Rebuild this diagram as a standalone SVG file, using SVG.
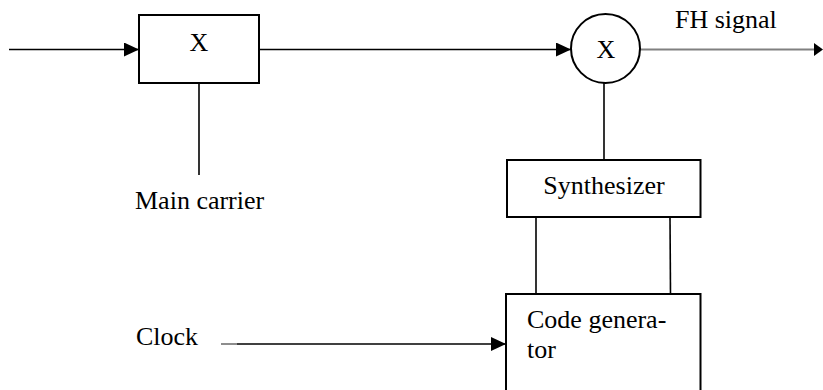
<svg xmlns="http://www.w3.org/2000/svg" width="823" height="390" viewBox="0 0 823 390">
  <style>
    .box { fill: #fff; stroke: #000; stroke-width: 2; }
    .wire { stroke: #000; stroke-width: 1.6; fill: none; }
    .grey { stroke: #808080; stroke-width: 1.8; fill: none; }
    .lbl { font-family: "Liberation Serif", "Times New Roman", serif; font-size: 26px; fill: #000; }
  </style>
  <defs>
    <marker id="arrow" viewBox="0 0 15 14" refX="15" refY="7" markerWidth="15" markerHeight="14" markerUnits="userSpaceOnUse" orient="auto">
      <path d="M0,0 L15,7 L0,14 Z" fill="#000"/>
    </marker>
  </defs>

  <g id="connectors">
    <line class="wire" x1="9" y1="49.5" x2="139" y2="49.5" marker-end="url(#arrow)"/>
    <line class="wire" x1="199" y1="83" x2="199" y2="175"/>
    <line class="wire" x1="259" y1="49.5" x2="571" y2="49.5" marker-end="url(#arrow)"/>
    <line class="grey" x1="640" y1="49.5" x2="815" y2="49.5"/>
    <path d="M814,43 L823,49.5 L814,56 Z" fill="#000"/>
    <line class="wire" x1="604" y1="83" x2="604" y2="160"/>
    <line class="wire" x1="536" y1="217" x2="536" y2="294"/>
    <line class="wire" x1="670" y1="217" x2="670.5" y2="294"/>
    <line class="grey" x1="221" y1="344" x2="237" y2="344"/>
    <line class="wire" x1="237" y1="344" x2="506" y2="344" marker-end="url(#arrow)"/>
  </g>

  <g id="mixer">
    <rect class="box" x="139" y="15" width="120" height="68"/>
    <text class="lbl" x="199" y="51" text-anchor="middle">X</text>
  </g>

  <g id="multiplier">
    <circle class="box" cx="605.5" cy="48.5" r="34.5"/>
    <text class="lbl" x="606" y="57.5" text-anchor="middle">X</text>
  </g>

  <g id="synthesizer">
    <rect class="box" x="507" y="160" width="193.5" height="57"/>
    <text class="lbl" x="604" y="194" text-anchor="middle">Synthesizer</text>
  </g>

  <g id="code-generator">
    <rect class="box" x="506" y="294" width="194.5" height="100"/>
    <text class="lbl" x="527" y="328">Code genera-</text>
    <text class="lbl" x="527" y="358">tor</text>
  </g>

  <g id="labels">
    <text class="lbl" x="675" y="28">FH signal</text>
    <text class="lbl" x="135" y="209">Main carrier</text>
    <text class="lbl" x="136" y="345">Clock</text>
  </g>
</svg>
